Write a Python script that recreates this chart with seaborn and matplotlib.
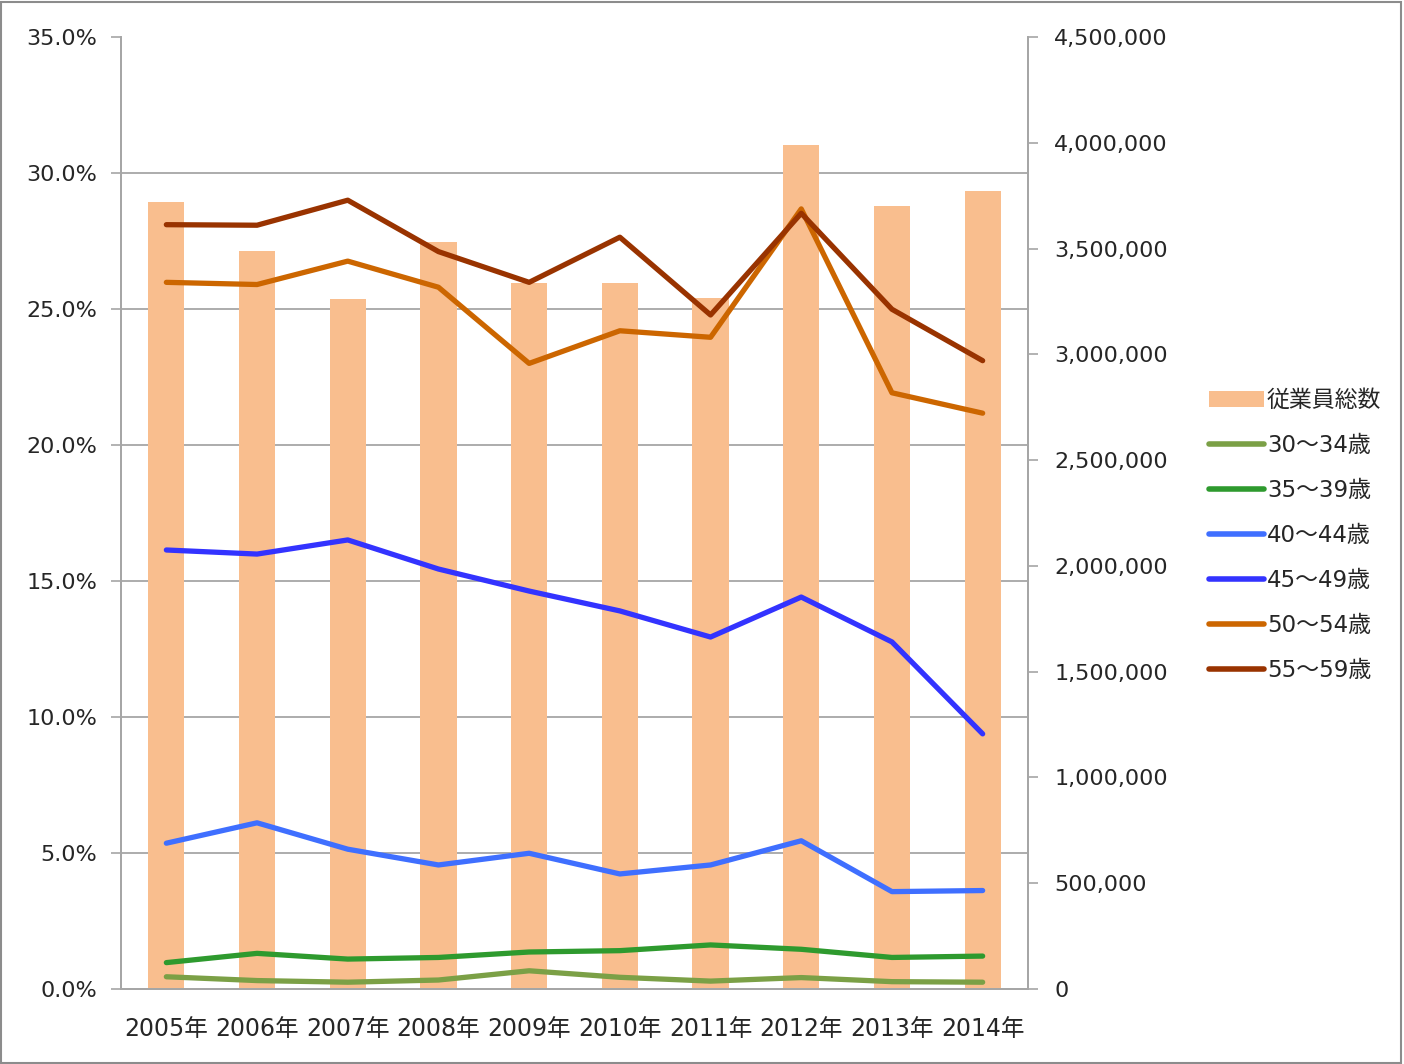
import matplotlib
matplotlib.use("Agg")
import matplotlib.pyplot as plt
import matplotlib.ticker as mticker
from matplotlib.patches import Rectangle, Patch
from matplotlib.lines import Line2D
import seaborn as sns
import pandas as pd

years = ["2005年", "2006年", "2007年", "2008年", "2009年", "2010年",
         "2011年", "2012年", "2013年", "2014年"]
total_employees = [3720000, 3490000, 3262000, 3530000, 3337000, 3337000,
                   3268000, 3990000, 3700000, 3770000]
age_30_34 = [0.45, 0.31, 0.25, 0.33, 0.67, 0.43, 0.29, 0.42, 0.27, 0.25]
age_35_39 = [0.97, 1.31, 1.10, 1.16, 1.36, 1.41, 1.62, 1.46, 1.16, 1.21]
age_40_44 = [5.36, 6.11, 5.14, 4.56, 4.99, 4.23, 4.56, 5.45, 3.58, 3.62]
age_45_49 = [16.14, 15.99, 16.51, 15.44, 14.63, 13.90, 12.94, 14.41, 12.76, 9.38]
age_50_54 = [25.98, 25.90, 26.76, 25.80, 23.00, 24.20, 23.96, 28.68, 21.92, 21.17]
age_55_59 = [28.10, 28.08, 29.00, 27.11, 25.98, 27.64, 24.78, 28.52, 24.99, 23.10]
series_names = ["30～34歳", "35～39歳", "40～44歳", "45～49歳", "50～54歳", "55～59歳"]
bar_name = "従業員総数"

series_values = [age_30_34, age_35_39, age_40_44, age_45_49, age_50_54, age_55_59]
colors = ["#7BA046", "#2E9A2E", "#3F6FFF", "#3333FF", "#CC6600", "#993300"]
bar_color = "#F9BE8E"
text_color = "#262626"
spine_color = "#A6A6A6"

sns.set_style("white")
plt.rcParams['font.family'] = ['DejaVu Sans', 'Noto Sans CJK JP']

fig = plt.figure(figsize=(14.04, 10.64), dpi=100)
ax = fig.add_axes([121/1404, 1 - 989/1064, (1028-121)/1404, (989-37)/1064])
ax2 = ax.twinx()
ax.set_zorder(ax2.get_zorder() + 1)
ax.patch.set_visible(False)

# bars on the right axis
df_bar = pd.DataFrame({"year": years, "total": total_employees})
sns.barplot(data=df_bar, x="year", y="total", ax=ax2, color=bar_color,
            width=0.4, saturation=1, edgecolor="none")
ax2.set_ylim(0, 4500000)
ax2.set_yticks(range(0, 4500001, 500000))
ax2.yaxis.set_major_formatter(mticker.FuncFormatter(lambda v, p: f"{int(v):,}"))
ax2.set_ylabel("")
ax2.set_xlabel("")
# grid aligned to left axis (5% steps) drawn behind bars
ax2.set_yticks([4500000 * k / 7 for k in range(1, 8)], minor=True)
ax2.grid(which="minor", axis="y", color="#A6A6A6", linewidth=1.3)
ax2.grid(which="major", visible=False)
ax2.set_axisbelow(True)
ax2.tick_params(axis="y", which="minor", length=0)
ax2.tick_params(axis="y", which="major", length=7, color=spine_color, width=1.2,
                labelsize=16, labelcolor=text_color, pad=12)

# lines on the left axis
rows = []
for name, vals in zip(series_names, series_values):
    for y, v in zip(years, vals):
        rows.append({"year": y, "pct": v, "series": name})
df_line = pd.DataFrame(rows)
sns.lineplot(data=df_line, x="year", y="pct", hue="series", ax=ax,
             palette=dict(zip(series_names, colors)), linewidth=3.8,
             legend=False, sort=False)
ax.set_ylim(0, 35)
ax.set_yticks(range(0, 36, 5))
ax.yaxis.set_major_formatter(mticker.FuncFormatter(lambda v, p: f"{v:.1f}%"))
ax.set_xlim(-0.5, len(years) - 0.5)
ax.set_xlabel("")
ax.set_ylabel("")
ax.tick_params(axis="y", length=7, color=spine_color, width=1.2,
               labelsize=16, labelcolor=text_color, pad=10)
ax.set_xticks(range(len(years)))
ax.set_xticklabels(years)
ax.set_xticks([i - 0.5 for i in range(len(years) + 1)], minor=True)
ax.tick_params(axis="x", which="major", length=0, labelsize=17,
               labelcolor=text_color, pad=20)
ax.tick_params(axis="x", which="minor", length=8, color=spine_color, width=1.2)
ax2.tick_params(axis="x", which="both", length=0, labelbottom=False)

for a in (ax, ax2):
    a.spines["top"].set_visible(False)
    for s in ("left", "right", "bottom"):
        a.spines[s].set_color(spine_color)
        a.spines[s].set_linewidth(1.3)

# legend
handles = [Patch(facecolor=bar_color, edgecolor="none")]
handles += [Line2D([0], [0], color=c, linewidth=4, solid_capstyle="round") for c in colors]
labels = [bar_name] + series_names
leg = fig.legend(handles, labels, loc="upper left",
                 bbox_to_anchor=(1188/1404, 1 - 368/1064), frameon=False,
                 fontsize=16.5, labelcolor=text_color, handlelength=2.4,
                 handleheight=0.7, handletextpad=0.15, labelspacing=0.96)

# outer border
fig.patches.append(Rectangle((0.001, 0.001), 0.997, 0.997, transform=fig.transFigure,
                             fill=False, edgecolor="#8C8C8C", linewidth=1.5))

fig.savefig("out.png", dpi=100)
